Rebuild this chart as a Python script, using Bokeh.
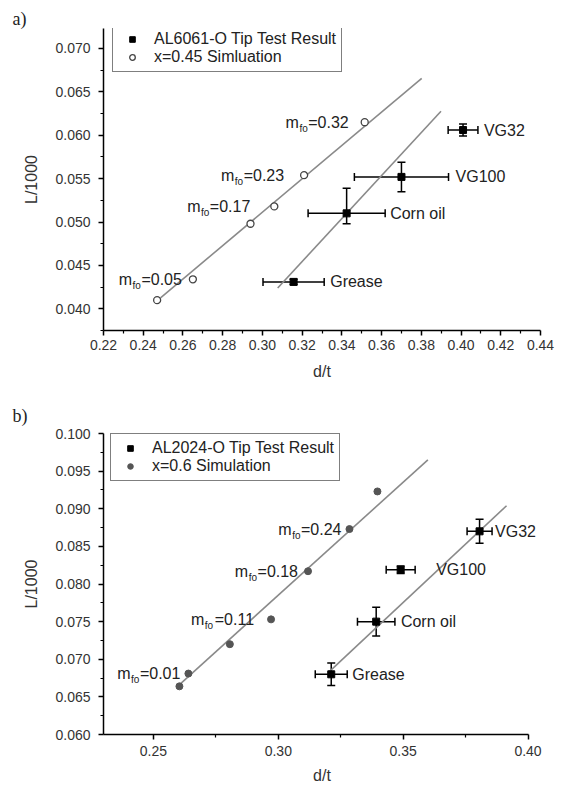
from bokeh.plotting import figure
from bokeh.models import (ColumnDataSource, Whisker, TeeHead, Legend, LegendItem,
                          Range1d, FixedTicker, PrintfTickFormatter)
from bokeh.layouts import column
from bokeh.embed import file_html
from bokeh.resources import INLINE
from bokeh.core.properties import value

# ---------------- Panel a data ----------------
a_sim_x = [0.247, 0.265, 0.294, 0.306, 0.321, 0.3515]
a_sim_y = [0.0410, 0.0434, 0.0498, 0.0518, 0.0554, 0.0615]
a_sim_labels = ["", "0.05", "", "0.17", "0.23", "0.32"]
a_test_names = ["VG32", "VG100", "Corn oil", "Grease"]
a_test_x = [0.401, 0.370, 0.3424, 0.3157]
a_test_y = [0.0606, 0.0552, 0.0510, 0.0431]
a_test_xerr = [0.0075, 0.0237, 0.0194, 0.0154]
a_test_yerr_lo = [0.0007, 0.0017, 0.0012, 0.0003]
a_test_yerr_hi = [0.0007, 0.0017, 0.0029, 0.0003]
a_fit_sim_x = [0.2487, 0.3802]
a_fit_sim_y = [0.04126, 0.06655]
a_fit_test_x = [0.3077, 0.3899]
a_fit_test_y = [0.0424, 0.06276]
a_xticks = [0.22, 0.24, 0.26, 0.28, 0.30, 0.32, 0.34, 0.36, 0.38, 0.40, 0.42, 0.44]
a_xminor = [0.23, 0.25, 0.27, 0.29, 0.31, 0.33, 0.35, 0.37, 0.39, 0.41, 0.43]
a_yticks = [0.040, 0.045, 0.050, 0.055, 0.060, 0.065, 0.070]
a_yminor = [0.0375, 0.0425, 0.0475, 0.0525, 0.0575, 0.0625, 0.0675, 0.0725]
a_legend = ["AL6061-O Tip Test Result", "x=0.45 Simluation"]

# ---------------- Panel b data ----------------
b_sim_x = [0.2604, 0.2640, 0.2806, 0.2971, 0.3119, 0.3285, 0.3397]
b_sim_y = [0.0664, 0.0681, 0.0720, 0.0753, 0.0817, 0.0873, 0.0923]
b_sim_labels = ["", "0.01", "", "0.11", "0.18", "0.24", ""]
b_test_names = ["VG32", "VG100", "Corn oil", "Grease"]
b_test_x = [0.3806, 0.3490, 0.3392, 0.3212]
b_test_y = [0.0870, 0.0819, 0.0750, 0.0680]
b_test_xerr = [0.0050, 0.0058, 0.0075, 0.0064]
b_test_yerr_lo = [0.0016, 0.0005, 0.0019, 0.0015]
b_test_yerr_hi = [0.0016, 0.0005, 0.0019, 0.0015]
b_fit_sim_x = [0.2610, 0.3599]
b_fit_sim_y = [0.0668, 0.0965]
b_fit_test_x = [0.3199, 0.3914]
b_fit_test_y = [0.0682, 0.0904]
b_xticks = [0.25, 0.30, 0.35, 0.40]
b_xminor = [0.275, 0.325, 0.375]
b_yticks = [0.060, 0.065, 0.070, 0.075, 0.080, 0.085, 0.090, 0.095, 0.100]
b_yminor = [0.0625, 0.0675, 0.0725, 0.0775, 0.0825, 0.0875, 0.0925, 0.0975]
b_legend = ["AL2024-O Tip Test Result", "x=0.6 Simulation"]

FONT = "Liberation Sans"
ANN = "16px"
SUB = "10px"

AW = {'m': 0.833, 'f': 0.278, 'o': 0.556, '=': 0.584, '.': 0.278}


def tw(s, px):
    return sum(AW.get(c, 0.556) for c in s) * px


def build(width, height, xr, yr, xbounds, borders, xt, xm, yt, ym,
          sim_x, sim_y, sim_labels, lab_gaps, sim_style,
          names, tx, ty, txe, tyl, tyh, name_offs,
          fsx, fsy, ftx, fty, legend_txt, legend_loc, panel_txt, title_standoff,
          xl_std, xl_lab_std):
    p = figure(width=width, height=height, x_range=Range1d(*xr), y_range=Range1d(*yr),
               output_backend="svg", toolbar_location=None,
               min_border_left=borders[0], min_border_right=borders[1],
               min_border_top=borders[2], min_border_bottom=borders[3])
    p.outline_line_color = None
    p.xgrid.grid_line_color = None
    p.ygrid.grid_line_color = None
    p.background_fill_color = "white"
    p.border_fill_color = "white"

    p.title.text = panel_txt
    p.title.text_font = "Liberation Serif"
    p.title.text_font_size = "18px"
    p.title.text_font_style = "normal"
    p.title.text_color = "#222222"
    p.title.align = "left"
    p.title.offset = -91
    p.title.standoff = title_standoff

    p.xaxis.ticker = FixedTicker(ticks=xt, minor_ticks=xm)
    p.yaxis.ticker = FixedTicker(ticks=yt, minor_ticks=ym)
    p.xaxis.formatter = PrintfTickFormatter(format="%.2f")
    p.yaxis.formatter = PrintfTickFormatter(format="%.3f")
    p.xaxis.bounds = xbounds
    for ax in (p.xaxis, p.yaxis):
        ax.axis_line_color = "black"
        ax.axis_line_width = 1.5
        ax.major_tick_line_color = "black"
        ax.major_tick_line_width = 1.5
        ax.major_tick_out = 5
        ax.major_tick_in = 0
        ax.minor_tick_line_color = "black"
        ax.minor_tick_line_width = 1.2
        ax.minor_tick_out = 3
        ax.minor_tick_in = 0
        ax.major_label_text_font = FONT
        ax.major_label_text_font_size = "14px"
        ax.major_label_text_color = "#333333"
        ax.axis_label_text_font = FONT
        ax.axis_label_text_font_size = "16px"
        ax.axis_label_text_font_style = "normal"
        ax.axis_label_text_color = "#333333"
    p.xaxis.axis_label = "d/t"
    p.yaxis.axis_label = "L/1000"
    p.xaxis.major_label_standoff = xl_std
    p.xaxis.axis_label_standoff = xl_lab_std
    p.yaxis.major_label_standoff = 8
    p.yaxis.axis_label_standoff = 12

    # fit lines
    p.line(fsx, fsy, line_color="#8a8a8a", line_width=1.6)
    p.line(ftx, fty, line_color="#8a8a8a", line_width=1.6)

    # error bars
    src = ColumnDataSource(dict(
        x=tx, y=ty,
        xlo=[a - e for a, e in zip(tx, txe)], xhi=[a + e for a, e in zip(tx, txe)],
        ylo=[a - e for a, e in zip(ty, tyl)], yhi=[a + e for a, e in zip(ty, tyh)],
        lx=[a + e for a, e in zip(tx, txe)], name=names, off=name_offs))
    for dim, base, lo, hi in (("width", "y", "xlo", "xhi"), ("height", "x", "ylo", "yhi")):
        w = Whisker(source=src, base=base, lower=lo, upper=hi, dimension=dim,
                    line_color="black", line_width=1.5,
                    upper_head=TeeHead(size=8, line_color="black", line_width=1.5),
                    lower_head=TeeHead(size=8, line_color="black", line_width=1.5))
        p.add_layout(w)

    test_r = p.scatter("x", "y", source=src, marker="square", size=7,
                       fill_color="black", line_color="black")
    sim_r = p.scatter(sim_x, sim_y, marker="circle", **sim_style)

    p.text("lx", "y", text="name", source=src, x_offset="off",
           text_align="left", text_baseline="middle",
           text_font=value(FONT), text_font_size=ANN, text_color="#222222")

    # m_fo labels
    lx, ly, lt, o_rest, o_sub, o_m = [], [], [], [], [], []
    k = 0
    for x, y, t in zip(sim_x, sim_y, sim_labels):
        if t:
            g = lab_gaps[k]
            k += 1
            w_rest = tw("=" + t, 16)
            w_sub = tw("fo", 10)
            lx.append(x)
            ly.append(y)
            lt.append("=" + t)
            o_rest.append(-g)
            o_sub.append(-g - w_rest - 0.5)
            o_m.append(-g - w_rest - w_sub - 1)
    lsrc = ColumnDataSource(dict(x=lx, y=ly, t=lt, o1=o_rest, o2=o_sub, o3=o_m,
                                 m=["m"] * len(lx), fo=["fo"] * len(lx)))
    common = dict(source=lsrc, text_align="right", text_font=value(FONT), text_color="#222222")
    p.text("x", "y", text="t", x_offset="o1", text_baseline="middle",
           text_font_size=ANN, **common)
    p.text("x", "y", text="fo", x_offset="o2", y_offset=6, text_baseline="middle",
           text_font_size=SUB, **common)
    p.text("x", "y", text="m", x_offset="o3", text_baseline="middle",
           text_font_size=ANN, **common)

    legend = Legend(items=[LegendItem(label=legend_txt[0], renderers=[test_r]),
                           LegendItem(label=legend_txt[1], renderers=[sim_r])],
                    location=legend_loc)
    legend.border_line_color = "black"
    legend.border_line_width = 1.5
    legend.background_fill_color = "white"
    legend.background_fill_alpha = 1.0
    legend.label_text_font = FONT
    legend.label_text_font_size = "16px"
    legend.label_text_color = "#222222"
    legend.label_height = 17
    legend.glyph_height = 14
    legend.glyph_width = 28
    legend.label_standoff = 8
    legend.spacing = 0
    legend.padding = 5
    legend.margin = 0
    p.add_layout(legend)
    return p


pa = build(567, 386, (0.22, 0.44), (0.0375, 0.0723), (0.22, 0.44), (103, 27, 28, 56),
           a_xticks, a_xminor, a_yticks, a_yminor,
           a_sim_x, a_sim_y, a_sim_labels, [11, 24, 20, 16],
           dict(size=7, fill_color="white", line_color="#444444", line_width=1.3),
           a_test_names, a_test_x, a_test_y, a_test_xerr, a_test_yerr_lo, a_test_yerr_hi,
           [6, 7, 5, 6],
           a_fit_sim_x, a_fit_sim_y, a_fit_test_x, a_fit_test_y,
           a_legend, (9, 258), "a)", 0, 4, 10)

pb = build(567, 400, (0.23, 0.405), (0.060, 0.100), (0.23, 0.40), (103, 11, 47, 52),
           b_xticks, b_xminor, b_yticks, b_yminor,
           b_sim_x, b_sim_y, b_sim_labels, [8, 17, 10, 8],
           dict(size=7, fill_color="#555555", line_color="#555555", line_width=1),
           b_test_names, b_test_x, b_test_y, b_test_xerr, b_test_yerr_lo, b_test_yerr_hi,
           [3, 21, 6, 5],
           b_fit_sim_x, b_fit_sim_y, b_fit_test_x, b_fit_test_y,
           b_legend, (7, 253), "b)", 15, 6, 8)

layout = column(pa, pb)
open("out.html", "w").write(file_html(layout, INLINE))
